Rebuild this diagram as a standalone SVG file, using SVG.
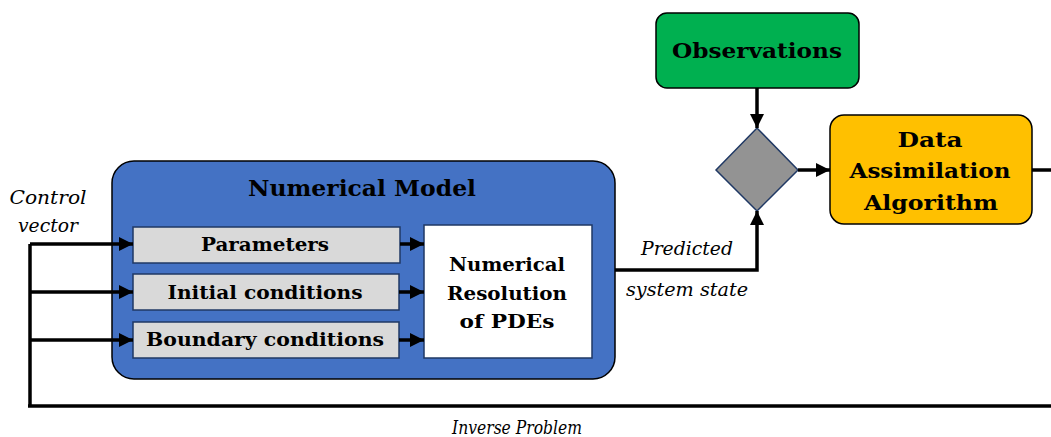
<svg xmlns="http://www.w3.org/2000/svg" width="1051" height="437" viewBox="0 0 1051 437">
<defs>
<style>
text{font-family:'DejaVu Serif','Liberation Serif',serif;fill:#000}
.b{font-weight:bold}
.i{font-style:italic;font-size:18.5px}
.ln{fill:none;stroke:#000;stroke-width:3.5}
.sub{fill:#D9D9D9;stroke:#1F3864;stroke-width:1.5}
</style>
<marker id="ar" viewBox="0 0 10 10" refX="10" refY="5" markerWidth="4" markerHeight="4" markerUnits="strokeWidth" orient="auto">
<path d="M0,0 L10,5 L0,10 z" fill="#000"/>
</marker>
</defs>
<rect width="1051" height="437" fill="#fff"/>
<g id="numerical-model">
<rect x="112" y="161" width="503" height="218" rx="22" fill="#4472C4" stroke="#000" stroke-width="1.5"/>
<text class="b" x="362" y="196" font-size="21.5" text-anchor="middle" textLength="228" lengthAdjust="spacingAndGlyphs">Numerical Model</text>
</g>
<g id="parameters">
<rect class="sub" x="133" y="227" width="267" height="36"/>
<text class="b" x="265" y="251" font-size="18.5" text-anchor="middle" textLength="128" lengthAdjust="spacingAndGlyphs">Parameters</text>
</g>
<g id="initial-conditions">
<rect class="sub" x="133" y="274" width="266" height="36"/>
<text class="b" x="265" y="299" font-size="18.5" text-anchor="middle" textLength="195" lengthAdjust="spacingAndGlyphs">Initial conditions</text>
</g>
<g id="boundary-conditions">
<rect class="sub" x="133" y="322" width="266" height="36"/>
<text class="b" x="265" y="346" font-size="18.5" text-anchor="middle" textLength="238" lengthAdjust="spacingAndGlyphs">Boundary conditions</text>
</g>
<g id="numerical-resolution">
<rect x="424" y="225" width="168" height="133" fill="#fff" stroke="#1F3864" stroke-width="1.5"/>
<text class="b" x="507" y="271" font-size="18.5" text-anchor="middle" textLength="116" lengthAdjust="spacingAndGlyphs">Numerical</text>
<text class="b" x="507" y="300" font-size="18.5" text-anchor="middle" textLength="120" lengthAdjust="spacingAndGlyphs">Resolution</text>
<text class="b" x="507" y="328" font-size="18.5" text-anchor="middle" textLength="95" lengthAdjust="spacingAndGlyphs">of PDEs</text>
</g>
<g id="observations">
<rect x="656" y="13" width="203" height="75" rx="11" fill="#00B050" stroke="#000" stroke-width="1.5"/>
<text class="b" x="757" y="58" font-size="19.5" text-anchor="middle" textLength="170" lengthAdjust="spacingAndGlyphs">Observations</text>
</g>
<g id="comparison">
<polygon points="716,170 757,128 798,170 757,211" fill="#939393" stroke="#1F3864" stroke-width="1.5"/>
</g>
<g id="data-assimilation">
<rect x="830" y="115" width="202" height="109" rx="14" fill="#FFC000" stroke="#000" stroke-width="1.5"/>
<text class="b" x="930" y="147" font-size="20.5" text-anchor="middle" textLength="65" lengthAdjust="spacingAndGlyphs">Data</text>
<text class="b" x="930" y="178" font-size="20.5" text-anchor="middle" textLength="161" lengthAdjust="spacingAndGlyphs">Assimilation</text>
<text class="b" x="931" y="210" font-size="20.5" text-anchor="middle" textLength="134" lengthAdjust="spacingAndGlyphs">Algorithm</text>
</g>
<g id="connectors">
<path class="ln" d="M30,406 L30,244" stroke-width="4"/>
<path class="ln" d="M28,406 L1051,406" stroke-width="4"/>
<path class="ln" d="M1032,170 L1051,170" stroke-width="4"/>
<path class="ln" d="M30,244 L133,244" stroke-width="3" marker-end="url(#ar)"/>
<path class="ln" d="M30,292 L133,292" stroke-width="3" marker-end="url(#ar)"/>
<path class="ln" d="M30,340 L133,340" stroke-width="3" marker-end="url(#ar)"/>
<path class="ln" d="M400,244 L424,244" stroke-width="3" marker-end="url(#ar)"/>
<path class="ln" d="M399,292 L424,292" stroke-width="3" marker-end="url(#ar)"/>
<path class="ln" d="M399,340 L424,340" stroke-width="3" marker-end="url(#ar)"/>
<path class="ln" d="M615,270 L757,270 L757,211" stroke-width="3.5" marker-end="url(#ar)"/>
<path class="ln" d="M757,88 L757,128" stroke-width="3" marker-end="url(#ar)"/>
<path class="ln" d="M798,170 L830,170" stroke-width="3" marker-end="url(#ar)"/>
<text class="i" x="48" y="204" text-anchor="middle" textLength="77" lengthAdjust="spacingAndGlyphs">Control</text>
<text class="i" x="48" y="232" text-anchor="middle" textLength="60" lengthAdjust="spacingAndGlyphs">vector</text>
<text class="i" x="687" y="255" text-anchor="middle" textLength="92" lengthAdjust="spacingAndGlyphs">Predicted</text>
<text class="i" x="687" y="296" text-anchor="middle" textLength="122" lengthAdjust="spacingAndGlyphs">system state</text>
<text class="i" x="517" y="434" text-anchor="middle" textLength="130" lengthAdjust="spacingAndGlyphs">Inverse Problem</text>
</g>
</svg>
